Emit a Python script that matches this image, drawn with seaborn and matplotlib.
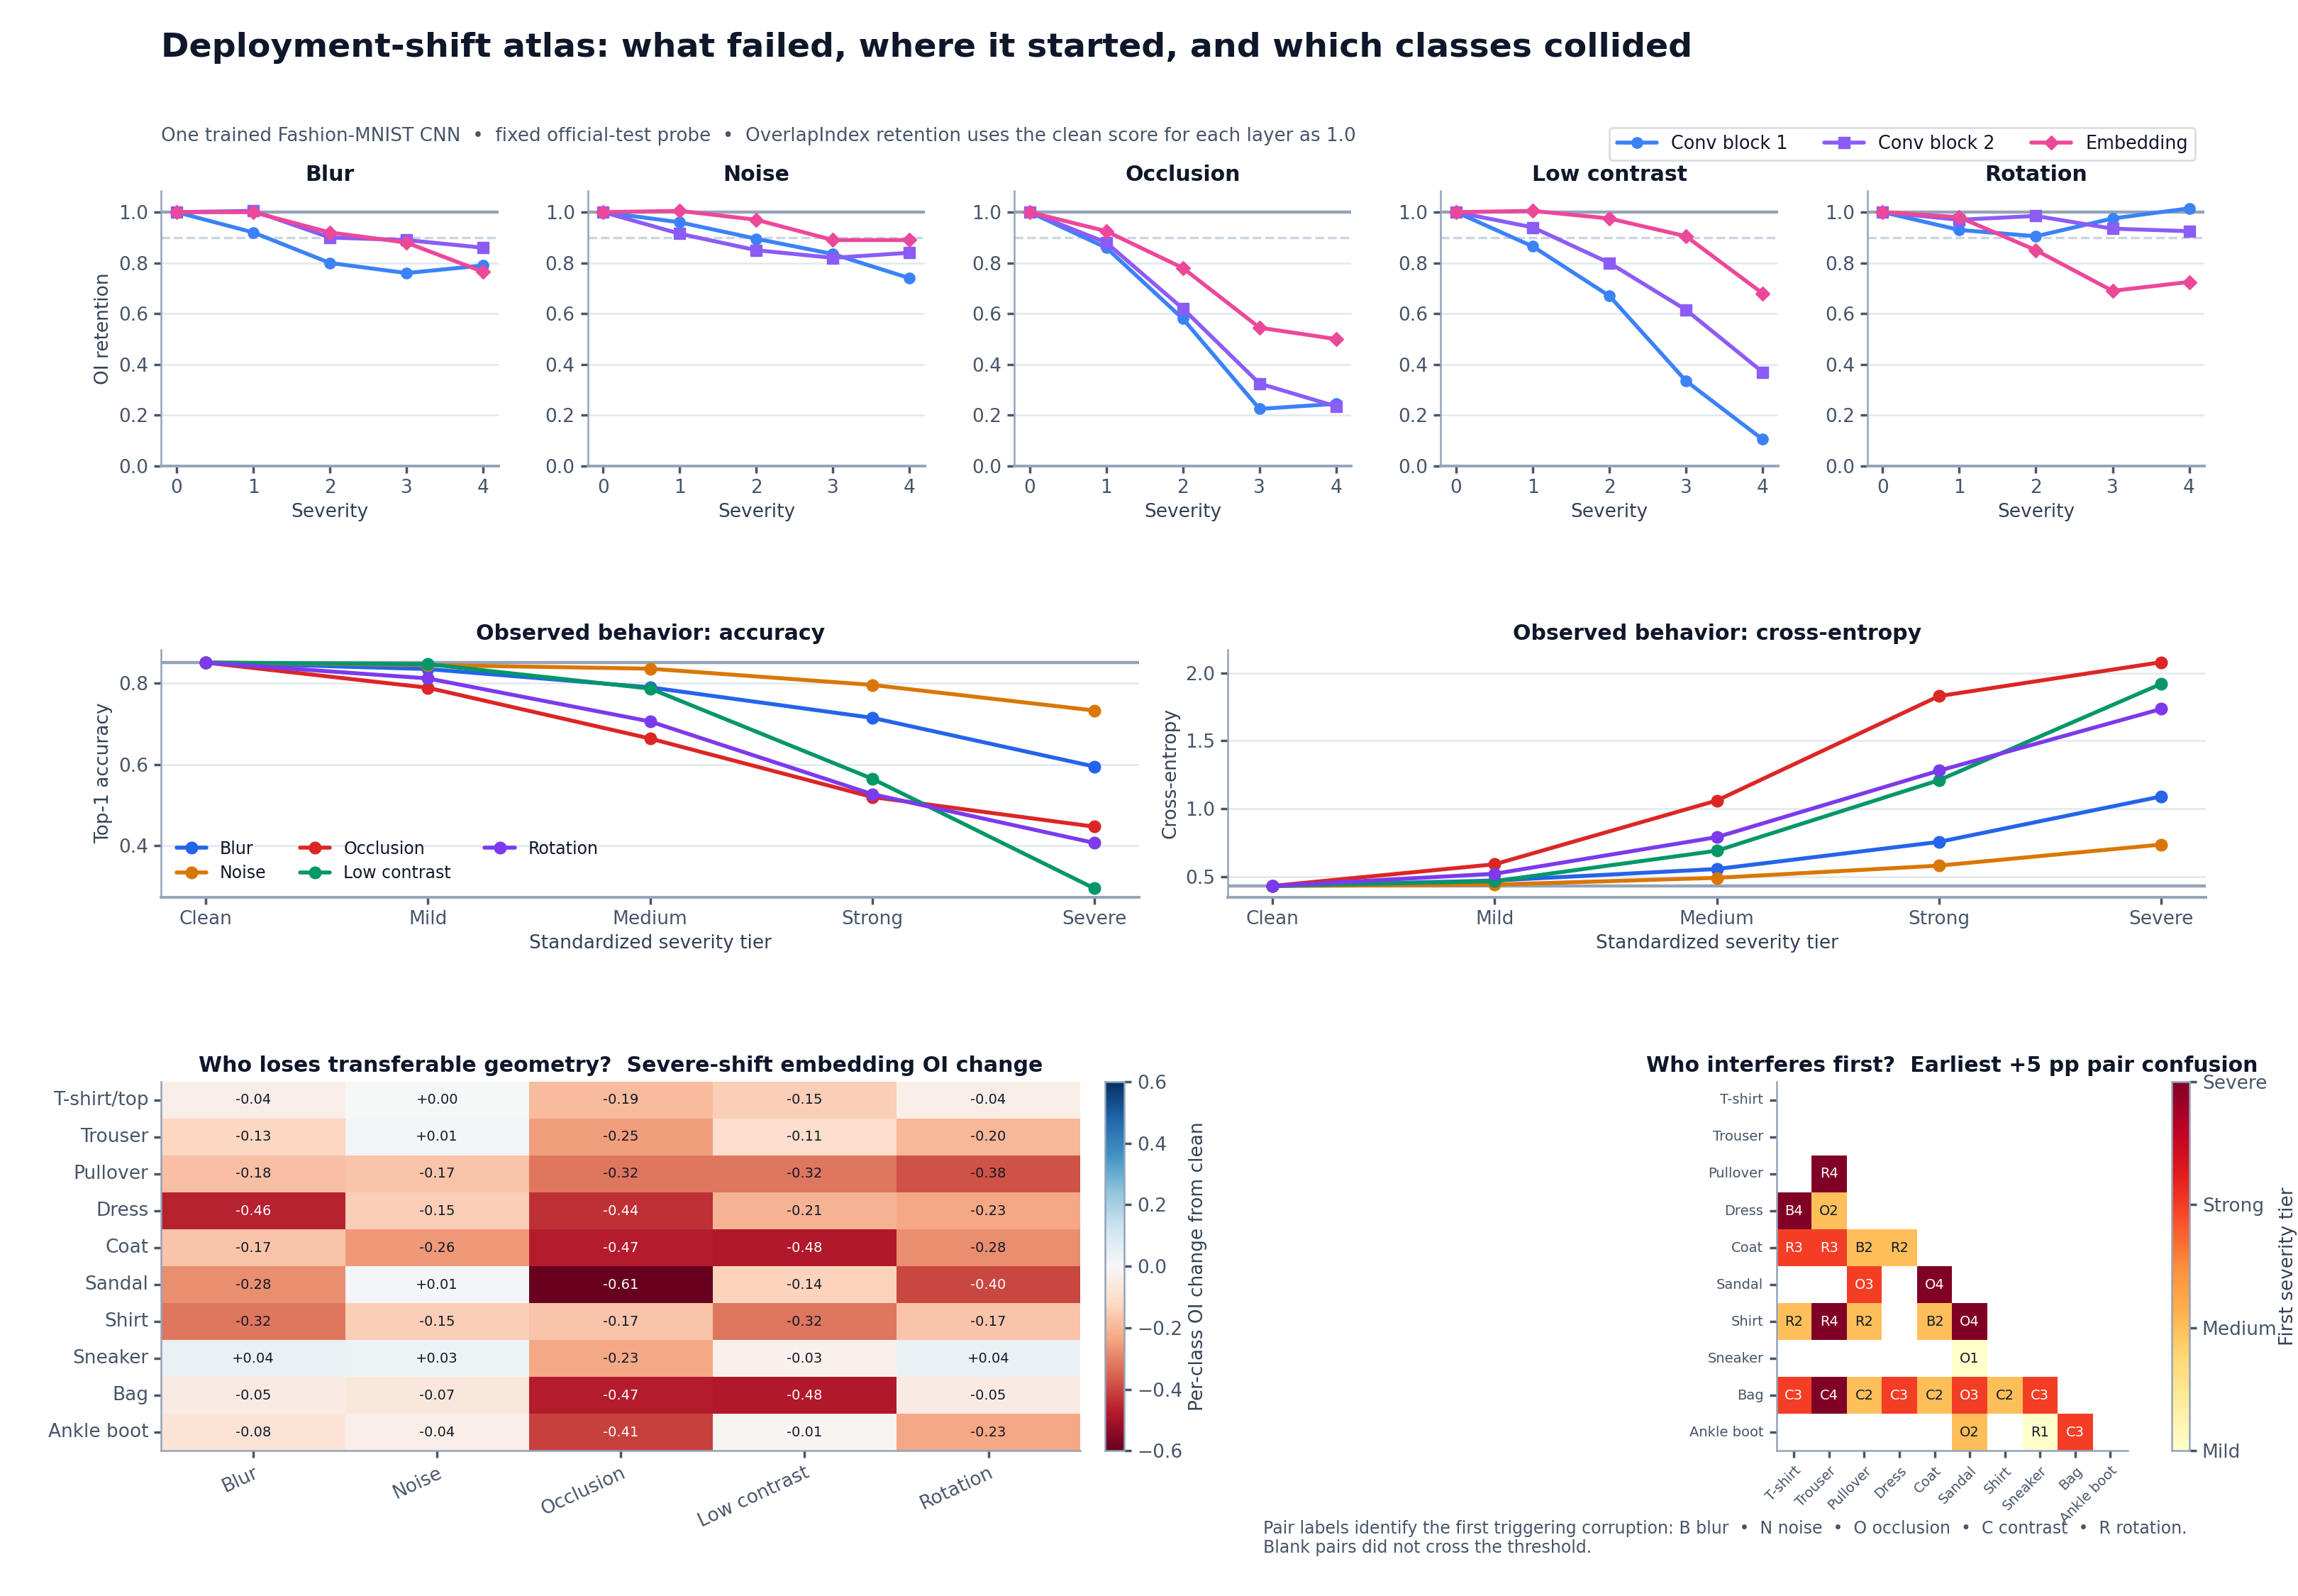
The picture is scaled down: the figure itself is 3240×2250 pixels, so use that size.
import numpy as np
import pandas as pd
import seaborn as sns
import matplotlib.pyplot as plt

# ---- data -------------------------------------------------------------
corruptions = ["Blur", "Noise", "Occlusion", "Low contrast", "Rotation"]
severity = [0, 1, 2, 3, 4]
layer_names = ["Conv block 1", "Conv block 2", "Embedding"]

# OI retention per corruption (rows follow `corruptions`)
conv1_retention = [
    [1.00, 0.92, 0.80, 0.76, 0.79],
    [1.00, 0.96, 0.895, 0.835, 0.74],
    [1.00, 0.86, 0.58, 0.225, 0.245],
    [1.00, 0.865, 0.67, 0.335, 0.105],
    [1.00, 0.93, 0.905, 0.975, 1.015],
]
conv2_retention = [
    [1.00, 1.005, 0.90, 0.89, 0.86],
    [1.00, 0.915, 0.85, 0.82, 0.84],
    [1.00, 0.88, 0.62, 0.325, 0.235],
    [1.00, 0.94, 0.80, 0.615, 0.37],
    [1.00, 0.97, 0.985, 0.935, 0.925],
]
embed_retention = [
    [1.00, 1.00, 0.92, 0.88, 0.765],
    [1.00, 1.005, 0.97, 0.89, 0.89],
    [1.00, 0.925, 0.78, 0.545, 0.50],
    [1.00, 1.005, 0.975, 0.905, 0.68],
    [1.00, 0.98, 0.85, 0.69, 0.725],
]

tiers = ["Clean", "Mild", "Medium", "Strong", "Severe"]
accuracy = [
    [0.851, 0.835, 0.790, 0.715, 0.595],
    [0.851, 0.845, 0.836, 0.796, 0.733],
    [0.851, 0.789, 0.664, 0.520, 0.447],
    [0.851, 0.847, 0.787, 0.565, 0.295],
    [0.851, 0.812, 0.706, 0.527, 0.407],
]
cross_entropy = [
    [0.43, 0.47, 0.555, 0.755, 1.09],
    [0.43, 0.44, 0.49, 0.58, 0.735],
    [0.43, 0.59, 1.06, 1.83, 2.08],
    [0.43, 0.465, 0.69, 1.21, 1.92],
    [0.43, 0.52, 0.79, 1.28, 1.735],
]
clean_accuracy = 0.851
clean_ce = 0.43

classes = ["T-shirt/top", "Trouser", "Pullover", "Dress", "Coat",
           "Sandal", "Shirt", "Sneaker", "Bag", "Ankle boot"]
short_classes = ["T-shirt", "Trouser", "Pullover", "Dress", "Coat",
                 "Sandal", "Shirt", "Sneaker", "Bag", "Ankle boot"]
oi_change = [
    [-0.04, 0.00, -0.19, -0.15, -0.04],
    [-0.13, 0.01, -0.25, -0.11, -0.20],
    [-0.18, -0.17, -0.32, -0.32, -0.38],
    [-0.46, -0.15, -0.44, -0.21, -0.23],
    [-0.17, -0.26, -0.47, -0.48, -0.28],
    [-0.28, 0.01, -0.61, -0.14, -0.40],
    [-0.32, -0.15, -0.17, -0.32, -0.17],
    [0.04, 0.03, -0.23, -0.03, 0.04],
    [-0.05, -0.07, -0.47, -0.48, -0.05],
    [-0.08, -0.04, -0.41, -0.01, -0.23],
]

# (row class, column class, first trigger: corruption letter + tier)
first_confusion = [
    ("Pullover", "Trouser", "R4"),
    ("Dress", "T-shirt", "B4"), ("Dress", "Trouser", "O2"),
    ("Coat", "T-shirt", "R3"), ("Coat", "Trouser", "R3"),
    ("Coat", "Pullover", "B2"), ("Coat", "Dress", "R2"),
    ("Sandal", "Pullover", "O3"), ("Sandal", "Coat", "O4"),
    ("Shirt", "T-shirt", "R2"), ("Shirt", "Trouser", "R4"),
    ("Shirt", "Pullover", "R2"), ("Shirt", "Coat", "B2"),
    ("Shirt", "Sandal", "O4"),
    ("Sneaker", "Sandal", "O1"),
    ("Bag", "T-shirt", "C3"), ("Bag", "Trouser", "C4"),
    ("Bag", "Pullover", "C2"), ("Bag", "Dress", "C3"),
    ("Bag", "Coat", "C2"), ("Bag", "Sandal", "O3"),
    ("Bag", "Shirt", "C2"), ("Bag", "Sneaker", "C3"),
    ("Ankle boot", "Sandal", "O2"), ("Ankle boot", "Sneaker", "R1"),
    ("Ankle boot", "Bag", "C3"),
]
tier_names = ["Mild", "Medium", "Strong", "Severe"]

# ---- style ------------------------------------------------------------
INK = "#0f172a"
MUTED = "#475569"
SPINE = "#94a3b8"
GRID = "#e2e8f0"

sns.set_theme(style="ticks", rc={
    "axes.edgecolor": SPINE,
    "axes.labelcolor": "#334155",
    "xtick.color": MUTED,
    "ytick.color": MUTED,
    "text.color": INK,
    "axes.titleweight": "bold",
    "axes.titlesize": 10.8,
    "axes.titlecolor": INK,
    "axes.labelsize": 9.5,
    "xtick.labelsize": 9.5,
    "ytick.labelsize": 9.5,
    "xtick.major.size": 3.5,
    "ytick.major.size": 3.5,
    "xtick.major.pad": 3,
    "ytick.major.pad": 3,
    "axes.labelpad": 3,
    "axes.linewidth": 0.9,
})
plt.rcParams["font.family"] = ["DejaVu Sans"]

layer_colors = ["#3b82f6", "#8b5cf6", "#ec4899"]
layer_markers = ["o", "s", "D"]
shift_colors = ["#2563eb", "#d97706", "#dc2626", "#059669", "#7c3aed"]

fig = plt.figure(figsize=(16.2, 11.25), dpi=200)

fig.text(0.0702, 0.970, "Deployment-shift atlas: what failed, where it started, and which classes collided",
         fontsize=17.1, fontweight="bold", color=INK, va="center")
fig.text(0.0702, 0.9146,
         "One trained Fashion-MNIST CNN  \u2022  fixed official-test probe  \u2022  "
         "OverlapIndex retention uses the clean score for each layer as 1.0",
         fontsize=9.45, color=MUTED, va="center")

# ---- row 1: OI retention per corruption -------------------------------
handles = labels = None
for i, name in enumerate(corruptions):
    ax = fig.add_axes([0.0702 + i * 0.1856, 0.708, 0.1467, 0.1726])
    ax.axhline(1.0, color=SPINE, lw=1.6, zorder=1)
    ax.axhline(0.9, color="#cbd5e1", lw=1.2, ls="--", zorder=1)
    for series, lname, col, mk in zip([conv1_retention, conv2_retention, embed_retention],
                                      layer_names, layer_colors, layer_markers):
        sns.lineplot(x=severity, y=series[i], ax=ax, color=col, marker=mk,
                     markersize=5 if mk == "D" else 5.5, lw=2, mec=col, mew=0.5,
                     label=lname, zorder=3)
    if handles is None:
        handles, labels = ax.get_legend_handles_labels()
    if ax.get_legend() is not None:
        ax.get_legend().remove()
    ax.set_ylim(0, 1.085)
    ax.set_xlim(-0.2, 4.2)
    ax.set_yticks([0, 0.2, 0.4, 0.6, 0.8, 1.0])
    ax.set_xticks(severity)
    ax.yaxis.grid(True, color=GRID, lw=0.9)
    ax.set_axisbelow(True)
    ax.set_title(name, pad=5)
    ax.set_xlabel("Severity")
    ax.set_ylabel("OI retention" if i == 0 else "")
    sns.despine(ax=ax)
    ax.spines["bottom"].set_linewidth(1.4)

fig.legend(handles, labels, loc="upper right", bbox_to_anchor=(0.9554, 0.920),
           borderaxespad=0, ncol=3, fontsize=9.2, frameon=True, edgecolor="#d1d5db",
           handlelength=2.2, columnspacing=2.0)

# ---- row 2: observed behaviour ---------------------------------------
tier_pos = list(range(len(tiers)))
mid_specs = [
    (0.0702, accuracy, clean_accuracy, "Observed behavior: accuracy", "Top-1 accuracy",
     (0.274, 0.883), [0.4, 0.6, 0.8]),
    (0.5344, cross_entropy, clean_ce, "Observed behavior: cross-entropy", "Cross-entropy",
     (0.349, 2.173), [0.5, 1.0, 1.5, 2.0]),
]
for left, values, ref, title, ylabel, ylim, yticks in mid_specs:
    ax = fig.add_axes([left, 0.438, 0.4254, 0.155])
    ax.axhline(ref, color=SPINE, lw=1.6, zorder=1)
    for series, name, col in zip(values, corruptions, shift_colors):
        sns.lineplot(x=tier_pos, y=series, ax=ax, color=col, marker="o",
                     markersize=6, lw=2, mec=col, mew=0.5, label=name, zorder=3)
    ax.set_xticks(tier_pos)
    ax.set_xticklabels(tiers)
    ax.set_xlim(-0.2, 4.2)
    ax.set_ylim(*ylim)
    ax.set_yticks(yticks)
    ax.yaxis.grid(True, color=GRID, lw=0.9)
    ax.set_axisbelow(True)
    ax.set_title(title, pad=5)
    ax.set_xlabel("Standardized severity tier")
    ax.set_ylabel(ylabel)
    sns.despine(ax=ax)
    ax.spines["bottom"].set_linewidth(1.4)
    if values is accuracy:
        ax.legend(loc="lower left", ncol=3, fontsize=8.5, frameon=False,
                  handlelength=1.8, columnspacing=2.0, labelspacing=0.45,
                  bbox_to_anchor=(0.0, 0.0))
    else:
        ax.get_legend().remove()

# ---- row 3 left: per-class OI change heatmap --------------------------
ax = fig.add_axes([0.0702, 0.0909, 0.3999, 0.2314])
cax = fig.add_axes([0.481, 0.0909, 0.0083, 0.2314])
oi_df = pd.DataFrame(oi_change, index=classes, columns=corruptions)
sns.heatmap(oi_df, ax=ax, cbar_ax=cax, cmap="RdBu", vmin=-0.6, vmax=0.6,
            annot=True, fmt="+.2f", annot_kws={"fontsize": 7})
for txt, val in zip(ax.texts, oi_df.values.flat):
    txt.set_color("white" if abs(val) > 0.39 else "#111827")
ax.set_title("Who loses transferable geometry?  Severe-shift embedding OI change", pad=5)
ax.set_xticklabels(corruptions, rotation=25, ha="right", rotation_mode="anchor")
ax.set_yticklabels(classes, rotation=0)
ax.set_xlabel("")
ax.set_ylabel("")
for side in ["left", "bottom"]:
    ax.spines[side].set_visible(True)
    ax.spines[side].set_color(SPINE)
cax.set_ylabel("Per-class OI change from clean", color="#334155", fontsize=9.5)
cax.set_yticks([-0.6, -0.4, -0.2, 0.0, 0.2, 0.4, 0.6])
cax.tick_params(labelsize=9.5)
for sp in cax.spines.values():
    sp.set_visible(True)
    sp.set_color(SPINE)

# ---- row 3 right: earliest pair confusion ----------------------------
n = len(short_classes)
tier_grid = np.full((n, n), np.nan)
code_grid = np.full((n, n), "", dtype=object)
for row_name, col_name, code in first_confusion:
    r = short_classes.index(row_name)
    c = short_classes.index(col_name)
    tier_grid[r, c] = int(code[1])
    code_grid[r, c] = code
pair_df = pd.DataFrame(tier_grid, index=short_classes, columns=short_classes)

ax2 = fig.add_axes([0.773, 0.0909, 0.153, 0.2314])
cax2 = fig.add_axes([0.945, 0.0909, 0.0077, 0.2314])
sns.heatmap(pair_df, ax=ax2, cbar_ax=cax2, cmap="YlOrRd", vmin=1, vmax=4,
            annot=code_grid, fmt="", annot_kws={"fontsize": 7})
for txt in ax2.texts:
    txt.set_color("white" if txt.get_text()[1] in "34" else "#111827")
ax2.set_title("Who interferes first?  Earliest +5 pp pair confusion", pad=5)
ax2.set_xticklabels(short_classes, rotation=45, ha="right", rotation_mode="anchor", fontsize=7)
ax2.set_yticklabels(short_classes, rotation=0, fontsize=7)
ax2.set_xlabel("")
ax2.set_ylabel("")
for side in ["left", "bottom"]:
    ax2.spines[side].set_visible(True)
    ax2.spines[side].set_color(SPINE)
cax2.set_yticks([1, 2, 3, 4])
cax2.set_yticklabels(tier_names)
cax2.tick_params(labelsize=9.5)
cax2.set_ylabel("First severity tier", color="#334155", fontsize=9.5, labelpad=1)
for sp in cax2.spines.values():
    sp.set_visible(True)
    sp.set_color(SPINE)

fig.text(0.5497, 0.0475,
         "Pair labels identify the first triggering corruption: B blur  \u2022  N noise  \u2022  "
         "O occlusion  \u2022  C contrast  \u2022  R rotation.\nBlank pairs did not cross the threshold.",
         fontsize=8.5, color=MUTED, va="top", linespacing=1.15)

fig.savefig("out.png", dpi=200, facecolor="white")
